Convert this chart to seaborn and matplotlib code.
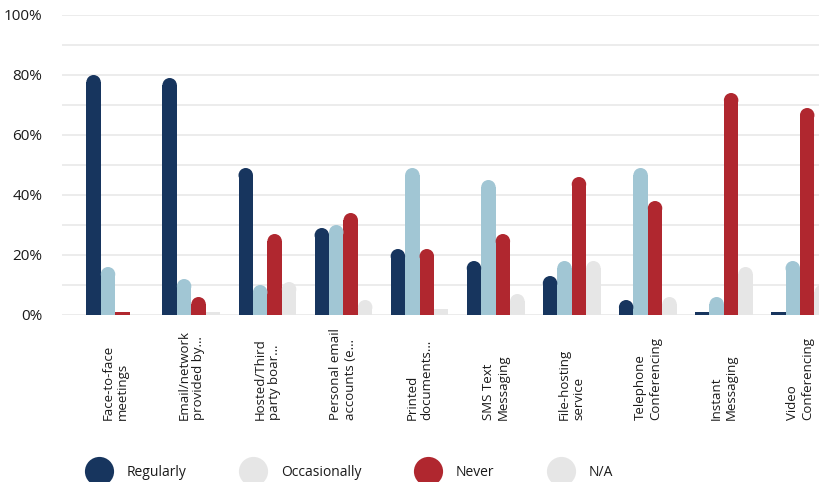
import pandas as pd
import seaborn as sns
import matplotlib.pyplot as plt
from matplotlib.patches import Ellipse
from matplotlib.lines import Line2D
from matplotlib.ticker import FuncFormatter, MultipleLocator

# --- data ---
channels = ["Face-to-face\nmeetings", "Email/network\nprovided by…", "Hosted/Third\nparty boar…",
            "Personal email\naccounts (e…", "Printed\ndocuments…", "SMS Text\nMessaging",
            "File-hosting\nservice", "Telephone\nConferencing", "Instant\nMessaging",
            "Video\nConferencing"]
freq_levels = ["Regularly", "Occasionally", "Never", "N/A"]
regularly = [80, 79, 49, 29, 22, 18, 13, 5, 1, 1]
occasionally = [16, 12, 10, 30, 49, 45, 18, 49, 6, 18]
never = [1, 6, 27, 34, 22, 27, 46, 38, 74, 69]
not_applicable = [0, 1, 11, 5, 2, 7, 18, 6, 16, 10]

bar_colors = ["#17355e", "#a1c6d4", "#b0272f", "#e6e6e6"]
legend_colors = ["#17355e", "#e6e6e6", "#b0272f", "#e6e6e6"]

rows = []
for name, vals in zip(freq_levels, [regularly, occasionally, never, not_applicable]):
    for ch, v in zip(channels, vals):
        rows.append({"channel": ch, "freq": name, "pct": v})
df = pd.DataFrame(rows)

sns.set_style("white")
plt.rcParams["font.family"] = ["Open Sans", "DejaVu Sans"]

W, H = 819, 482
fig = plt.figure(figsize=(W / 100, H / 100), dpi=100)
ax_l, ax_r, ax_top, ax_bot = 62, 819, 15, 315
ax = fig.add_axes([ax_l / W, (H - ax_bot) / H, (ax_r - ax_l) / W, (ax_bot - ax_top) / H])

sns.barplot(data=df, x="channel", y="pct", hue="freq", order=channels, hue_order=freq_levels,
            palette=bar_colors, saturation=1, width=0.76, legend=False, ax=ax, linewidth=0)

xmin, xmax = -0.70, 9.25
ax.set_xlim(xmin, xmax)
ax.set_ylim(0, 100)

# rounded tops
px_x = (ax_r - ax_l) / (xmax - xmin)
px_y = (ax_bot - ax_top) / 100
for p in list(ax.patches):
    x, w, h = p.get_x(), p.get_width(), p.get_height()
    r_y = (w * px_x / 2) / px_y
    if h > r_y:
        p.set_height(h - r_y)
        ax.add_patch(Ellipse((x + w / 2, h - r_y), w, 2 * r_y,
                             facecolor=p.get_facecolor(), edgecolor="none", zorder=p.get_zorder()))

# grid and axes styling
ax.yaxis.set_major_locator(MultipleLocator(10))
ax.yaxis.set_major_formatter(FuncFormatter(lambda v, _: f"{int(v)}%" if v % 20 == 0 else ""))
ax.grid(axis="y", color="#ebebeb", linewidth=1.3)
ax.set_axisbelow(True)
for s in ax.spines.values():
    s.set_visible(False)
ax.set_xlabel("")
ax.set_ylabel("")
ax.tick_params(axis="y", length=0, pad=14, labelsize=11, labelcolor="#1a1a1a")
ax.tick_params(axis="x", length=0, pad=75.6, labelsize=9.5, labelcolor="#1a1a1a")
for lab in ax.get_xticklabels():
    lab.set_rotation(90)
    lab.set_va("bottom")
    lab.set_ha("center")
    lab.set_multialignment("left")

handles = [Line2D([], [], marker="o", linestyle="", markersize=21, markerfacecolor=c,
                  markeredgecolor="none") for c in legend_colors]
fig.legend(handles, freq_levels, loc="center left", bbox_to_anchor=(85 / W, 10 / H),
           ncol=4, frameon=False, fontsize=10, handlelength=2.0, handletextpad=1.0,
           columnspacing=3.8, borderpad=0, borderaxespad=0, labelcolor="#1a1a1a")

fig.savefig("out.png", dpi=100)
